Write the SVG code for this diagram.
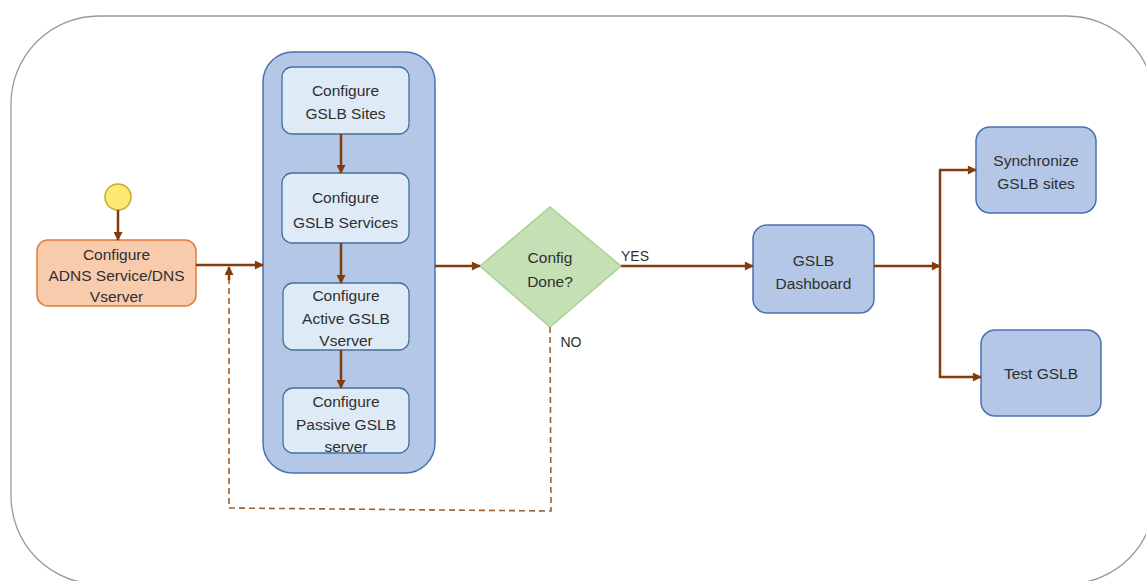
<svg xmlns="http://www.w3.org/2000/svg" width="1146" height="581" viewBox="0 0 1146 581">
<defs>
<marker id="ah" viewBox="0 0 10 10" refX="9" refY="5" markerWidth="10" markerHeight="9" markerUnits="userSpaceOnUse" orient="auto">
<path d="M0,0 L10,5 L0,10 z" fill="#843C0C"/>
</marker>
</defs>
<style>
text{font-family:"Liberation Sans",Arial,sans-serif;font-size:15.5px;fill:#2f2f2f;text-anchor:middle;dominant-baseline:central}
.inner{fill:#DEEBF7;stroke:#41719C;stroke-width:1.3}
.blue{fill:#B4C7E7;stroke:#4A72B0;stroke-width:1.5}
.conn{fill:none;stroke:#843C0C;stroke-width:2.5}
.dash{fill:none;stroke:#A0602D;stroke-width:1.6;stroke-dasharray:6,4}
</style>
<rect x="11" y="16" width="1144" height="568" rx="88" ry="88" fill="#fff" stroke="#999" stroke-width="1.3"/>

<g id="start"><circle cx="118" cy="197" r="13" fill="#FFE873" stroke="#C9A92B" stroke-width="1.5"/></g>

<g id="adns">
<rect x="37" y="240" width="159" height="66" rx="11" fill="#F8CBAD" stroke="#E07B39" stroke-width="1.5"/>
<text x="116.5" y="254">Configure</text>
<text x="116.5" y="275">ADNS Service/DNS</text>
<text x="116.5" y="296">Vserver</text>
</g>

<g id="container"><rect x="263" y="52" width="172" height="421" rx="30" ry="30" class="blue"/></g>

<g id="sites">
<rect x="282" y="67" width="127" height="67" rx="10" class="inner"/>
<text x="345.5" y="90">Configure</text>
<text x="345.5" y="113">GSLB Sites</text>
</g>
<g id="services">
<rect x="282" y="173" width="127" height="70" rx="10" class="inner"/>
<text x="345.5" y="197">Configure</text>
<text x="345.5" y="222">GSLB Services</text>
</g>
<g id="active">
<rect x="283" y="283" width="126" height="67" rx="10" class="inner"/>
<text x="346" y="295">Configure</text>
<text x="346" y="318">Active GSLB</text>
<text x="346" y="340">Vserver</text>
</g>
<g id="passive">
<rect x="283" y="388" width="126" height="65" rx="10" class="inner"/>
<text x="346" y="401">Configure</text>
<text x="346" y="424">Passive GSLB</text>
<text x="346" y="446">server</text>
</g>

<g id="decision">
<polygon points="480,266 550,207 621,266 550,327" fill="#C5E0B4" stroke="#A9D18E" stroke-width="1.5"/>
<text x="550" y="257">Config</text>
<text x="550" y="281">Done?</text>
</g>

<g id="dashboard">
<rect x="753" y="225" width="121" height="88" rx="14" class="blue"/>
<text x="813.5" y="260">GSLB</text>
<text x="813.5" y="283">Dashboard</text>
</g>
<g id="sync">
<rect x="976" y="127" width="120" height="86" rx="14" class="blue"/>
<text x="1036" y="160">Synchronize</text>
<text x="1036" y="183">GSLB sites</text>
</g>
<g id="test">
<rect x="981" y="330" width="120" height="86" rx="14" class="blue"/>
<text x="1041" y="373">Test GSLB</text>
</g>

<g id="connectors">
<line x1="118" y1="210" x2="118" y2="240" class="conn" marker-end="url(#ah)"/>
<line x1="196" y1="265" x2="263" y2="265" class="conn" marker-end="url(#ah)"/>
<line x1="341" y1="134" x2="341" y2="173" class="conn" marker-end="url(#ah)"/>
<line x1="341" y1="243" x2="341" y2="283" class="conn" marker-end="url(#ah)"/>
<line x1="341" y1="350" x2="341" y2="388" class="conn" marker-end="url(#ah)"/>
<line x1="435" y1="266" x2="480" y2="266" class="conn" marker-end="url(#ah)"/>
<line x1="621" y1="266" x2="753" y2="266" class="conn" marker-end="url(#ah)"/>
<line x1="874" y1="266" x2="940" y2="266" class="conn" marker-end="url(#ah)"/>
<polyline points="940,170 940,377 981,377" class="conn" marker-end="url(#ah)"/>
<line x1="939" y1="170" x2="976" y2="170" class="conn" marker-end="url(#ah)"/>
<polyline points="550,327 551,511 229,508 229,278" class="dash"/>
<line x1="229" y1="280" x2="229" y2="267" class="conn" stroke-width="1.6" marker-end="url(#ah)"/>
<text x="635" y="256" style="font-size:14px">YES</text>
<text x="571" y="342" style="font-size:14px">NO</text>
</g>
</svg>
